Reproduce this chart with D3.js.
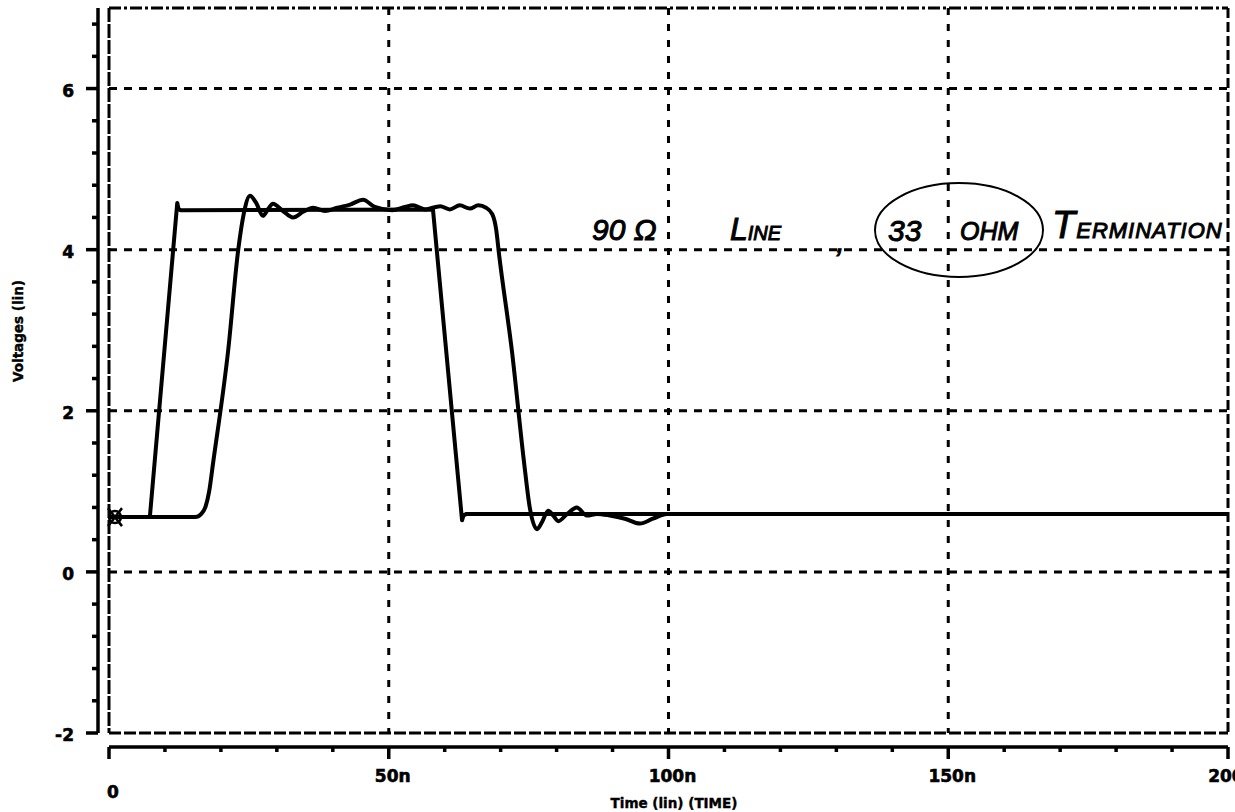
<!DOCTYPE html>
<html>
<head>
<meta charset="utf-8">
<script src="https://cdn.jsdelivr.net/npm/d3@7"></script>
<style>
    body { margin: 0; background: #fff; }
    svg { display: block; }
    .tick_label { font-family: "DejaVu Sans", sans-serif; font-weight: bold; font-size: 17px; stroke: #000; stroke-width: 0.6; }
    .axis_title { font-family: "DejaVu Sans", sans-serif; font-weight: bold; font-size: 13.5px; stroke: #000; stroke-width: 0.4; }
    .hand { font-family: "Liberation Sans", sans-serif; font-style: italic; stroke: #000; stroke-width: 1; }
</style>
</head>
<body>
<div id="chart"></div>
<script>
"use strict";

// trace 1: driver output (sharp edges), time in ns, volts
var timeA = [0, 7.3, 12.2, 12.45, 12.8, 57.9, 63.1, 63.35, 63.9, 200];
var voltA = [0.68, 0.68, 4.58, 4.50, 4.49, 4.50, 0.64, 0.70, 0.72, 0.72];

// trace 2: far end of the 90 ohm line, with ringing
var timeB = [0, 15.4, 16.5, 17.3, 17.9, 18.6, 21.3, 23.1, 24.1, 25.2, 26.3, 27.5, 28.4, 29.3,
    31.1, 32.9, 34.7, 36.5, 38.6, 40.8, 43.1, 45.4, 47.5, 50.6, 52.9, 54.3, 56.5, 59.2,
    60.9, 62.7, 64.5, 66.0, 67.4, 68.5, 69.2, 69.7, 72.0, 74.2, 75.2, 76.5, 77.4, 78.5,
    79.4, 80.3, 81.9, 83.6, 85.4, 87.2, 89.5, 92.2, 94.9, 97.2, 99.7, 200];
var voltB = [0.68, 0.68, 0.72, 0.82, 1.0, 1.35, 2.75, 4.0, 4.45, 4.67, 4.58, 4.42, 4.50, 4.57,
    4.48, 4.40, 4.47, 4.52, 4.48, 4.52, 4.56, 4.62, 4.53, 4.49, 4.53, 4.55, 4.50, 4.54,
    4.50, 4.55, 4.51, 4.55, 4.52, 4.44, 4.25, 3.95, 2.75, 1.35, 0.80, 0.53, 0.62, 0.76,
    0.70, 0.63, 0.72, 0.80, 0.70, 0.72, 0.70, 0.66, 0.60, 0.66, 0.72, 0.72];

var xMajorTicks = [0, 50, 100, 150, 200];
var xTickLabels = ["0", "50n", "100n", "150n", "200n"];
var yMajorTicks = [-2, 0, 2, 4, 6];
var yTickLabels = ["-2", "0", "2", "4", "6"];
var xGrid = [50, 100, 150];
var yGrid = [0, 2, 4, 6];

var W = 1235, H = 812;

var svg = d3.select("#chart").append("svg")
    .attr("width", W)
    .attr("height", H);

var x = d3.scaleLinear().domain([0, 200]).range([109, 1228]);
var y = d3.scaleLinear().domain([-2, 7]).range([733, 8]);

var axisX = 98;     // y axis line, left of the frame
var axisY = 747;    // x axis line, below the frame

// grid
svg.append("g").selectAll("line")
    .data(yGrid)
    .enter().append("line")
    .attr("x1", x(0)).attr("x2", x(200))
    .attr("y1", function(d) { return y(d); })
    .attr("y2", function(d) { return y(d); })
    .attr("stroke", "#000")
    .attr("stroke-width", 3)
    .attr("stroke-dasharray", "8,7");

svg.append("g").selectAll("line")
    .data(xGrid)
    .enter().append("line")
    .attr("x1", function(d) { return x(d); })
    .attr("x2", function(d) { return x(d); })
    .attr("y1", y(7)).attr("y2", y(-2))
    .attr("stroke", "#000")
    .attr("stroke-width", 3)
    .attr("stroke-dasharray", "7,9");

// frame
var frame = svg.append("g").attr("stroke", "#000").attr("stroke-width", 3);
frame.append("line").attr("x1", x(0)).attr("x2", x(200)).attr("y1", y(7)).attr("y2", y(7))
    .attr("stroke-dasharray", "12,3,3,3");
frame.append("line").attr("x1", x(0)).attr("x2", x(200)).attr("y1", y(-2)).attr("y2", y(-2))
    .attr("stroke-dasharray", "12,3");
frame.append("line").attr("x1", x(0)).attr("x2", x(0)).attr("y1", y(7)).attr("y2", y(-2))
    .attr("stroke-dasharray", "14,2");
frame.append("line").attr("x1", x(200)).attr("x2", x(200)).attr("y1", y(7)).attr("y2", y(-2))
    .attr("stroke-dasharray", "10,4");

// y axis
var yAxisG = svg.append("g").attr("stroke", "#000");
yAxisG.append("line")
    .attr("x1", axisX).attr("x2", axisX)
    .attr("y1", y(7)).attr("y2", y(-2))
    .attr("stroke-width", 3.5);
yAxisG.selectAll("line.minor")
    .data(d3.range(-20, 70, 4).map(function(d) { return d / 10; }))
    .enter().append("line")
    .attr("class", "minor")
    .attr("x1", function(d) { return yMajorTicks.indexOf(d) >= 0 ? axisX - 12 : axisX - 6; })
    .attr("x2", axisX)
    .attr("y1", function(d) { return y(d); })
    .attr("y2", function(d) { return y(d); })
    .attr("stroke-width", 3.5);

svg.append("g").selectAll("text")
    .data(yMajorTicks)
    .enter().append("text")
    .attr("class", "tick_label")
    .attr("text-anchor", "end")
    .attr("x", 74)
    .attr("y", function(d) { return y(d) + 8; })
    .text(function(d, i) { return yTickLabels[i]; });

// x axis
var xAxisG = svg.append("g").attr("stroke", "#000");
xAxisG.append("line")
    .attr("x1", x(0)).attr("x2", x(200))
    .attr("y1", axisY).attr("y2", axisY)
    .attr("stroke-width", 3.5);
xAxisG.selectAll("line.minor")
    .data(d3.range(0, 201, 10))
    .enter().append("line")
    .attr("class", "minor")
    .attr("x1", function(d) { return x(d); })
    .attr("x2", function(d) { return x(d); })
    .attr("y1", axisY)
    .attr("y2", function(d) { return xMajorTicks.indexOf(d) >= 0 ? axisY + 12 : axisY + 5; })
    .attr("stroke-width", 3.5);

svg.append("g").selectAll("text")
    .data(xMajorTicks)
    .enter().append("text")
    .attr("class", "tick_label")
    .attr("text-anchor", "middle")
    .attr("x", function(d) { return x(d) + 4; })
    .attr("y", function(d, i) { return i == 0 ? 798 : 782; })
    .text(function(d, i) { return xTickLabels[i]; });

svg.append("text")
    .attr("class", "axis_title")
    .attr("text-anchor", "middle")
    .attr("x", 674)
    .attr("y", 808)
    .text("Time (lin) (TIME)");

svg.append("text")
    .attr("class", "axis_title")
    .attr("text-anchor", "middle")
    .attr("transform", "translate(23,331) rotate(-90)")
    .text("Voltages (lin)");

// traces
var line = d3.line()
    .x(function(d) { return x(d[0]); })
    .y(function(d) { return y(d[1]); });

svg.append("path")
    .datum(d3.zip(timeA, voltA))
    .attr("fill", "none")
    .attr("stroke", "#000")
    .attr("stroke-width", 4)
    .attr("stroke-linejoin", "round")
    .attr("d", line.curve(d3.curveLinear));

svg.append("path")
    .datum(d3.zip(timeB, voltB))
    .attr("fill", "none")
    .attr("stroke", "#000")
    .attr("stroke-width", 4)
    .attr("d", line.curve(d3.curveMonotoneX));

// probe marker at t = 0
var mk = svg.append("g")
    .attr("transform", "translate(" + (x(0) + 6) + "," + y(0.68) + ")")
    .attr("stroke", "#000").attr("stroke-width", 2.5).attr("fill", "none");
mk.append("circle").attr("r", 6);
mk.append("path").attr("d", "M-7,-9L7,9M7,-9L-7,9");

// handwritten note
var note = svg.append("g").attr("class", "hand");
note.append("text").attr("x", 592).attr("y", 240).attr("font-size", 30).text("90 Ω");
var t1 = note.append("text").attr("x", 730).attr("y", 240);
t1.append("tspan").attr("font-size", 32).text("L");
t1.append("tspan").attr("font-size", 20).text("INE");
note.append("text").attr("x", 836).attr("y", 252).attr("font-size", 32).text(",");
note.append("text").attr("x", 888).attr("y", 241).attr("font-size", 30).text("33");
note.append("text").attr("x", 960).attr("y", 240).attr("font-size", 25).text("OHM");
var t2 = note.append("text").attr("x", 1052).attr("y", 238).attr("letter-spacing", 1);
t2.append("tspan").attr("font-size", 38).text("T");
t2.append("tspan").attr("font-size", 22).text("ERMINATION");

svg.append("ellipse")
    .attr("cx", 959).attr("cy", 230)
    .attr("rx", 84).attr("ry", 47)
    .attr("fill", "none")
    .attr("stroke", "#000")
    .attr("stroke-width", 2);
</script>
</body>
</html>
